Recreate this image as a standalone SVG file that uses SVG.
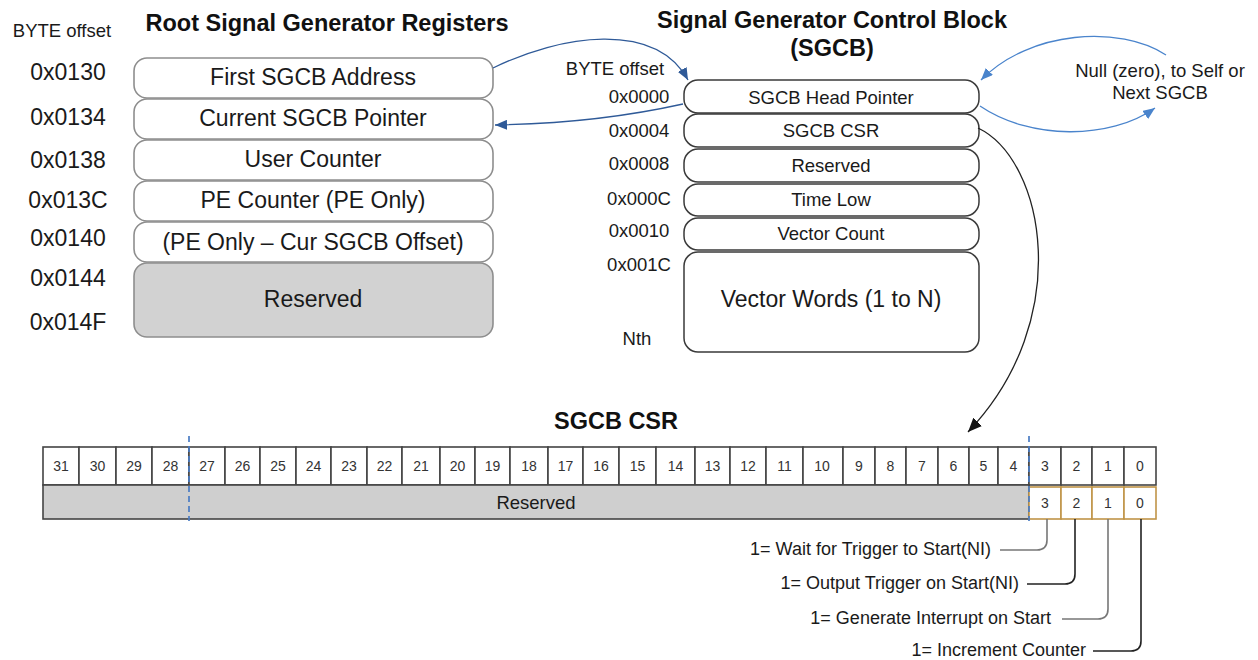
<svg xmlns="http://www.w3.org/2000/svg" width="1258" height="660" viewBox="0 0 1258 660">
<defs>
<style>
text{font-family:"Liberation Sans",Arial,sans-serif;fill:#1a1a1a;dominant-baseline:central}
.title{font-weight:bold;font-size:23.5px;text-anchor:middle;fill:#111}
.off{font-size:18.5px;text-anchor:middle}
.loff{font-size:23px;text-anchor:middle}
.lbox{fill:#fff;stroke:#8e8e8e;stroke-width:1.6}
.lres{fill:#d2d2d2;stroke:#8e8e8e;stroke-width:1.6}
.ltxt{font-size:23px;text-anchor:middle}
.sbox{fill:#fff;stroke:#3a3a3a;stroke-width:1.5}
.stxt{font-size:18.5px;text-anchor:middle}
.cell{fill:#fff;stroke:#444;stroke-width:1.6}
.gold{fill:#fff;stroke:#C09448;stroke-width:1.6}
.bit{font-size:14px;text-anchor:middle;fill:#333}
.note{font-size:18.5px;text-anchor:middle}
.lbl{font-size:18px;text-anchor:end}
.dblue{fill:none;stroke:#2F5A98;stroke-width:1.3}
.lblue{fill:none;stroke:#4A84CC;stroke-width:1.3}
.blk{fill:none;stroke:#222;stroke-width:1.3}
.dash{stroke:#4A7CC4;stroke-width:1.7;stroke-dasharray:6 4}
.lead{fill:none;stroke-width:1.6}
</style>
<marker id="ahD" markerUnits="userSpaceOnUse" markerWidth="13" markerHeight="10" refX="12" refY="5" orient="auto"><path d="M0,0 L12,5 L0,10 z" fill="#2F5A98"/></marker>
<marker id="ahL" markerUnits="userSpaceOnUse" markerWidth="13" markerHeight="10" refX="12" refY="5" orient="auto"><path d="M0,0 L12,5 L0,10 z" fill="#4A84CC"/></marker>
<marker id="ahK" markerUnits="userSpaceOnUse" markerWidth="15" markerHeight="12" refX="14" refY="6" orient="auto"><path d="M0,0 L14,6 L0,12 z" fill="#111"/></marker>
</defs>
<rect width="1258" height="660" fill="#fff"/>

<g id="root-registers">
<text x="62" y="30" class="off">BYTE offset</text>
<text x="327" y="23" class="title">Root Signal Generator Registers</text>
<text x="68" y="72" class="loff">0x0130</text>
<text x="68" y="117" class="loff">0x0134</text>
<text x="68" y="160" class="loff">0x0138</text>
<text x="68" y="200" class="loff">0x013C</text>
<text x="68" y="238" class="loff">0x0140</text>
<text x="68" y="278" class="loff">0x0144</text>
<text x="68" y="322" class="loff">0x014F</text>
<g id="r-first"><rect x="134" y="58" width="359" height="40" rx="13" class="lbox"/><text x="313" y="77" class="ltxt">First SGCB Address</text></g>
<g id="r-current"><rect x="134" y="99" width="359" height="40" rx="13" class="lbox"/><text x="313" y="118" class="ltxt">Current SGCB Pointer</text></g>
<g id="r-user"><rect x="134" y="140" width="359" height="40" rx="13" class="lbox"/><text x="313" y="159" class="ltxt">User Counter</text></g>
<g id="r-pe"><rect x="134" y="181" width="359" height="40" rx="13" class="lbox"/><text x="313" y="200" class="ltxt">PE Counter (PE Only)</text></g>
<g id="r-peoff"><rect x="134" y="222" width="359" height="40" rx="13" class="lbox"/><text x="313" y="242" class="ltxt">(PE Only – Cur SGCB Offset)</text></g>
<g id="r-res"><rect x="134" y="263" width="359" height="74" rx="13" class="lres"/><text x="313" y="299" class="ltxt">Reserved</text></g>
</g>

<g id="sgcb">
<text x="832" y="20" class="title">Signal Generator Control Block</text>
<text x="832" y="48" class="title">(SGCB)</text>
<text x="615" y="68" class="off">BYTE offset</text>
<text x="639" y="96" class="off">0x0000</text>
<text x="639" y="130" class="off">0x0004</text>
<text x="639" y="163" class="off">0x0008</text>
<text x="639" y="198" class="off">0x000C</text>
<text x="639" y="230" class="off">0x0010</text>
<text x="639" y="264" class="off">0x001C</text>
<text x="637" y="338" class="off">Nth</text>
<g id="s-head"><rect x="684" y="80" width="295" height="33" rx="14" class="sbox"/><text x="831" y="97" class="stxt">SGCB Head Pointer</text></g>
<g id="s-csr"><rect x="684" y="114" width="295" height="33" rx="14" class="sbox"/><text x="831" y="130" class="stxt">SGCB CSR</text></g>
<g id="s-res"><rect x="684" y="149" width="295" height="33" rx="14" class="sbox"/><text x="831" y="165" class="stxt">Reserved</text></g>
<g id="s-time"><rect x="684" y="184" width="295" height="32" rx="14" class="sbox"/><text x="831" y="199" class="stxt">Time Low</text></g>
<g id="s-vcount"><rect x="684" y="218" width="295" height="32" rx="14" class="sbox"/><text x="831" y="233" class="stxt">Vector Count</text></g>
<g id="s-vwords"><rect x="684" y="252" width="295" height="100" rx="14" class="sbox"/><text x="831" y="299" class="ltxt">Vector Words (1 to N)</text></g>
</g>

<g id="note">
<text x="1160" y="70" class="note">Null (zero), to Self or</text>
<text x="1160" y="92" class="note">Next SGCB</text>
</g>

<g id="csr-table">
<text x="616" y="421" class="title">SGCB CSR</text>
<g id="bit-cells">
<rect x="43" y="447" width="36" height="38" class="cell"/><text x="61" y="466" class="bit">31</text>
<rect x="79" y="447" width="37" height="38" class="cell"/><text x="97.5" y="466" class="bit">30</text>
<rect x="116" y="447" width="36" height="38" class="cell"/><text x="134" y="466" class="bit">29</text>
<rect x="152" y="447" width="37" height="38" class="cell"/><text x="170.5" y="466" class="bit">28</text>
<rect x="189" y="447" width="36" height="38" class="cell"/><text x="207" y="466" class="bit">27</text>
<rect x="225" y="447" width="35" height="38" class="cell"/><text x="242.5" y="466" class="bit">26</text>
<rect x="260" y="447" width="36" height="38" class="cell"/><text x="278" y="466" class="bit">25</text>
<rect x="296" y="447" width="35" height="38" class="cell"/><text x="313.5" y="466" class="bit">24</text>
<rect x="331" y="447" width="36" height="38" class="cell"/><text x="349" y="466" class="bit">23</text>
<rect x="367" y="447" width="35" height="38" class="cell"/><text x="384.5" y="466" class="bit">22</text>
<rect x="402" y="447" width="38" height="38" class="cell"/><text x="421" y="466" class="bit">21</text>
<rect x="440" y="447" width="35" height="38" class="cell"/><text x="457.5" y="466" class="bit">20</text>
<rect x="475" y="447" width="35" height="38" class="cell"/><text x="492.5" y="466" class="bit">19</text>
<rect x="510" y="447" width="38" height="38" class="cell"/><text x="529" y="466" class="bit">18</text>
<rect x="548" y="447" width="35" height="38" class="cell"/><text x="565.5" y="466" class="bit">17</text>
<rect x="583" y="447" width="36" height="38" class="cell"/><text x="601" y="466" class="bit">16</text>
<rect x="619" y="447" width="37" height="38" class="cell"/><text x="637.5" y="466" class="bit">15</text>
<rect x="656" y="447" width="39" height="38" class="cell"/><text x="675.5" y="466" class="bit">14</text>
<rect x="695" y="447" width="35" height="38" class="cell"/><text x="712.5" y="466" class="bit">13</text>
<rect x="730" y="447" width="36" height="38" class="cell"/><text x="748" y="466" class="bit">12</text>
<rect x="766" y="447" width="37" height="38" class="cell"/><text x="784.5" y="466" class="bit">11</text>
<rect x="803" y="447" width="40" height="38" class="cell"/><text x="822" y="466" class="bit">10</text>
<rect x="843" y="447" width="32" height="38" class="cell"/><text x="859" y="466" class="bit">9</text>
<rect x="875" y="447" width="31" height="38" class="cell"/><text x="890.5" y="466" class="bit">8</text>
<rect x="906" y="447" width="32" height="38" class="cell"/><text x="922" y="466" class="bit">7</text>
<rect x="938" y="447" width="31" height="38" class="cell"/><text x="953.5" y="466" class="bit">6</text>
<rect x="969" y="447" width="29" height="38" class="cell"/><text x="983.5" y="466" class="bit">5</text>
<rect x="998" y="447" width="31" height="38" class="cell"/><text x="1013.5" y="466" class="bit">4</text>
<rect x="1029" y="447" width="32" height="38" class="cell"/><text x="1045" y="466" class="bit">3</text>
<rect x="1061" y="447" width="31" height="38" class="cell"/><text x="1076.5" y="466" class="bit">2</text>
<rect x="1092" y="447" width="32" height="38" class="cell"/><text x="1108" y="466" class="bit">1</text>
<rect x="1124" y="447" width="32" height="38" class="cell"/><text x="1140" y="466" class="bit">0</text>
</g>
<g id="field-row">
<rect x="43" y="485" width="986" height="34" fill="#cfcfcf" stroke="#444" stroke-width="1.6"/>
<text x="536" y="502" class="stxt">Reserved</text>
<rect x="1029" y="487" width="32" height="32" class="gold"/><text x="1045" y="503" class="bit">3</text>
<rect x="1061" y="487" width="31" height="32" class="gold"/><text x="1076.5" y="503" class="bit">2</text>
<rect x="1092" y="487" width="32" height="32" class="gold"/><text x="1108" y="503" class="bit">1</text>
<rect x="1124" y="487" width="32" height="32" class="gold"/><text x="1140" y="503" class="bit">0</text>
</g>
<line x1="189" y1="436" x2="189" y2="521" class="dash"/>
<line x1="1029" y1="436" x2="1029" y2="521" class="dash"/>
<g id="bit-labels">
<text x="991" y="549" class="lbl">1= Wait for Trigger to Start(NI)</text>
<text x="1019" y="583" class="lbl">1= Output Trigger on Start(NI)</text>
<text x="1051" y="618" class="lbl">1= Generate Interrupt on Start</text>
<text x="1086" y="650" class="lbl">1= Increment Counter</text>
</g>
</g>

<g id="connectors">
<path d="M493,68 C560,35 655,20 688,80" class="dblue" marker-end="url(#ahD)"/>
<path d="M683,104 C620,118 560,124 495,125" class="dblue" marker-end="url(#ahD)"/>
<path d="M1166,55 C1120,25 1030,30 981,80" class="lblue" marker-end="url(#ahL)"/>
<path d="M980,106 C1030,140 1110,140 1155,108" class="lblue" marker-end="url(#ahL)"/>
<path d="M978,128 C1045,160 1075,320 968,432" class="blk" marker-end="url(#ahK)"/>
<path d="M1047,519 V540 Q1047,550 1037,550 H1000" class="lead" stroke="#777"/>
<path d="M1075,519 V574 Q1075,584 1065,584 H1027" class="lead" stroke="#222"/>
<path d="M1108,519 V609 Q1108,619 1098,619 H1062" class="lead" stroke="#777"/>
<path d="M1141,519 V641 Q1141,651 1131,651 H1093" class="lead" stroke="#222"/>
</g>
</svg>
